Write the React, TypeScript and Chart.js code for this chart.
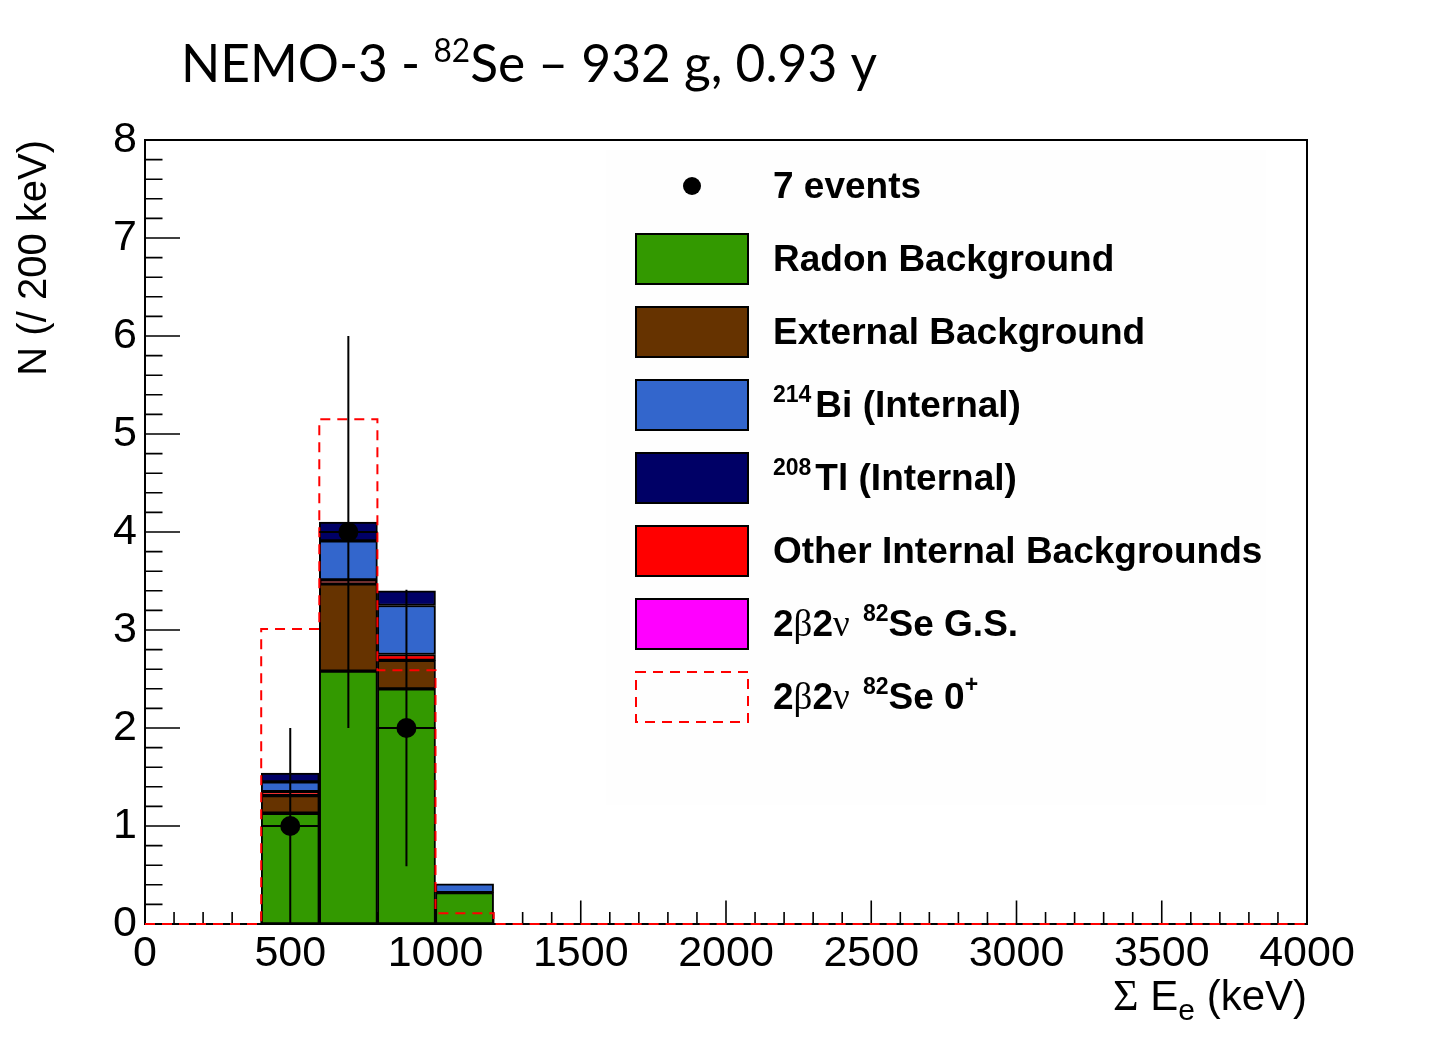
import { useEffect, useRef } from "react";
import { Chart, registerables, type Plugin } from "chart.js";

Chart.register(...registerables);

// bins are 200 keV wide
const binCenters = [500, 700, 900, 1100];
const radonBg = [1.13, 2.58, 2.40, 0.32];
const externalBg = [0.18, 0.89, 0.29, null];
const otherInternal = [0.04, 0.04, 0.06, null];
const bi214 = [0.10, 0.40, 0.50, 0.09];
const tl208 = [0.09, 0.19, 0.15, null];
const se82GS = [null, null, null, null];

// 2b2v 82Se 0+ (dashed), one value per 200 keV bin from 0 to 4000
const binEdges = [0, 200, 400, 600, 800, 1000, 1200, 1400, 1600, 1800, 2000, 2200, 2400, 2600, 2800, 3000, 3200, 3400, 3600, 3800, 4000];
const se82Excited = [0, 0, 3.01, 5.15, 2.59, 0.11, 0, 0, 0, 0, 0, 0, 0, 0, 0, 0, 0, 0, 0, 0];

// data: 7 events
const eventEnergy = [500, 700, 900];
const eventCounts = [1, 4, 2];
const eventErr = [1, 2, 1.41];
const eventXErr = [100, 100, 100];

const xTicks = [0, 500, 1000, 1500, 2000, 2500, 3000, 3500, 4000];
const yTicks = [0, 1, 2, 3, 4, 5, 6, 7, 8];

const SANS = "'Liberation Sans', Arial, sans-serif";
const SERIF = "'Liberation Serif', 'DejaVu Serif', serif";

type Seg = { t: string; font: string; dy?: number; dx?: number };

function richWidth(ctx: CanvasRenderingContext2D, segs: Seg[]) {
    let w = 0;
    for (const s of segs) { ctx.font = s.font; w += ctx.measureText(s.t).width + (s.dx ?? 0); }
    return w;
}

function drawRich(ctx: CanvasRenderingContext2D, x: number, y: number, segs: Seg[]) {
    let cx = x;
    for (const s of segs) {
        ctx.font = s.font;
        cx += s.dx ?? 0;
        ctx.fillText(s.t, cx, y + (s.dy ?? 0));
        cx += ctx.measureText(s.t).width;
    }
}

const frameAndTicks: Plugin = {
    id: "frameAndTicks",
    beforeDatasetsDraw(chart) {
        const { ctx, chartArea: a, scales } = chart;
        const x = scales.x, y = scales.y;
        ctx.save();
        ctx.strokeStyle = "#000";
        ctx.lineWidth = 2;
        ctx.strokeRect(a.left, a.top, a.right - a.left, a.bottom - a.top);
        ctx.lineWidth = 1.6;
        ctx.beginPath();
        for (let v = 0; v <= 4000; v += 100) {
            const px = x.getPixelForValue(v);
            const len = v % 500 === 0 ? 23.5 : 12;
            ctx.moveTo(px, a.bottom);
            ctx.lineTo(px, a.bottom - len);
        }
        for (let k = 0; k <= 40; k++) {
            const py = y.getPixelForValue(k * 0.2);
            const len = k % 5 === 0 ? 35 : 17.5;
            ctx.moveTo(a.left, py);
            ctx.lineTo(a.left + len, py);
        }
        ctx.stroke();
        ctx.restore();
    },
};

const errorBars: Plugin = {
    id: "errorBars",
    afterDatasetsDraw(chart) {
        const { ctx, scales } = chart;
        const x = scales.x, y = scales.y;
        ctx.save();
        ctx.strokeStyle = "#000";
        ctx.lineWidth = 2;
        ctx.beginPath();
        eventEnergy.forEach((e, i) => {
            const n = eventCounts[i];
            ctx.moveTo(x.getPixelForValue(e - eventXErr[i]), y.getPixelForValue(n));
            ctx.lineTo(x.getPixelForValue(e + eventXErr[i]), y.getPixelForValue(n));
            ctx.moveTo(x.getPixelForValue(e), y.getPixelForValue(Math.max(0, n - eventErr[i])));
            ctx.lineTo(x.getPixelForValue(e), y.getPixelForValue(n + eventErr[i]));
        });
        ctx.stroke();
        ctx.restore();
    },
};

const legendItems: { kind: "dot" | "box" | "dash"; color: string; segs: Seg[] }[] = [
    { kind: "dot", color: "#000", segs: [{ t: "7 events", font: `bold 37px ${SANS}` }] },
    { kind: "box", color: "#339900", segs: [{ t: "Radon Background", font: `bold 37px ${SANS}` }] },
    { kind: "box", color: "#663300", segs: [{ t: "External Background", font: `bold 37px ${SANS}` }] },
    { kind: "box", color: "#3366cc", segs: [{ t: "214", font: `bold 23px ${SANS}`, dy: -15 }, { t: "Bi (Internal)", font: `bold 37px ${SANS}`, dx: 4 }] },
    { kind: "box", color: "#000066", segs: [{ t: "208", font: `bold 23px ${SANS}`, dy: -15 }, { t: "Tl (Internal)", font: `bold 37px ${SANS}`, dx: 4 }] },
    { kind: "box", color: "#ff0000", segs: [{ t: "Other Internal Backgrounds", font: `bold 37px ${SANS}` }] },
    {
        kind: "box", color: "#ff00ff", segs: [
            { t: "2", font: `bold 37px ${SANS}` }, { t: "β", font: `37px ${SERIF}` },
            { t: "2", font: `bold 37px ${SANS}` }, { t: "ν ", font: `37px ${SERIF}` },
            { t: "82", font: `bold 23px ${SANS}`, dy: -15, dx: 4 }, { t: "Se G.S.", font: `bold 37px ${SANS}` },
        ],
    },
    {
        kind: "dash", color: "#ff0000", segs: [
            { t: "2", font: `bold 37px ${SANS}` }, { t: "β", font: `37px ${SERIF}` },
            { t: "2", font: `bold 37px ${SANS}` }, { t: "ν ", font: `37px ${SERIF}` },
            { t: "82", font: `bold 23px ${SANS}`, dy: -15, dx: 4 }, { t: "Se 0", font: `bold 37px ${SANS}` },
            { t: "+", font: `bold 23px ${SANS}`, dy: -17 },
        ],
    },
];

const textPlugin: Plugin = {
    id: "texts",
    afterDraw(chart) {
        const { ctx } = chart;
        ctx.save();
        ctx.fillStyle = "#000";
        ctx.textBaseline = "alphabetic";
        ctx.textAlign = "left";

        // title, Calibri-like, squeezed to the original width
        const title: Seg[] = [
            { t: "NEMO-3 - ", font: `52px Lato, 'Open Sans', sans-serif` },
            { t: "82", font: `32px Lato, 'Open Sans', sans-serif`, dy: -20 },
            { t: "Se – 932 g, 0.93 y", font: `52px Lato, 'Open Sans', sans-serif` },
        ];
        const tw = richWidth(ctx, title);
        ctx.save();
        ctx.translate(181, 82);
        ctx.scale(Math.min(1, 696 / tw), 1);
        drawRich(ctx, 0, 0, title);
        ctx.restore();

        // x-axis title
        const xt: Seg[] = [
            { t: "Σ", font: `44px ${SERIF}` },
            { t: " E", font: `42px ${SANS}` },
            { t: "e", font: `30px ${SANS}`, dy: 10 },
            { t: " (keV)", font: `42px ${SANS}` },
        ];
        drawRich(ctx, 1307 - richWidth(ctx, xt), 1010, xt);

        // legend
        ctx.fillStyle = "#fefefe";
        ctx.fillRect(606, 150, 660, 655);
        const rowY0 = 186, rowStep = 73;
        legendItems.forEach((it, i) => {
            const cy = rowY0 + i * rowStep;
            if (it.kind === "dot") {
                ctx.fillStyle = "#000";
                ctx.beginPath();
                ctx.arc(692, cy, 9, 0, Math.PI * 2);
                ctx.fill();
            } else if (it.kind === "box") {
                ctx.fillStyle = it.color;
                ctx.fillRect(636, cy - 25, 112, 50);
                ctx.strokeStyle = "#000";
                ctx.lineWidth = 2;
                ctx.strokeRect(636, cy - 25, 112, 50);
            } else {
                ctx.strokeStyle = it.color;
                ctx.lineWidth = 2;
                ctx.setLineDash([10, 7]);
                ctx.strokeRect(636, cy - 25, 112, 50);
                ctx.setLineDash([]);
            }
            ctx.fillStyle = "#000";
            drawRich(ctx, 773, cy + 12, it.segs);
        });
        ctx.restore();
    },
};

function barSet(label: string, values: (number | null)[], color: string) {
    return {
        type: "bar" as const,
        label,
        data: binCenters.map((x, i) => ({ x, y: values[i] })),
        backgroundColor: color,
        borderColor: "#000",
        borderWidth: 2,
        borderSkipped: false as const,
        barPercentage: 1,
        categoryPercentage: 1,
        stack: "bg",
        order: 3,
    };
}

export default function App() {
    const canvasRef = useRef<HTMLCanvasElement>(null);
    const chartRef = useRef<Chart | null>(null);

    useEffect(() => {
        if (!canvasRef.current) return;
        if (chartRef.current) chartRef.current.destroy();

        const stepData = binEdges.map((e, i) => ({ x: e, y: se82Excited[Math.min(i, se82Excited.length - 1)] }));

        chartRef.current = new Chart(canvasRef.current, {
            type: "bar",
            data: {
                datasets: [
                    barSet("Radon Background", radonBg, "#339900"),
                    barSet("External Background", externalBg, "#663300"),
                    barSet("Other Internal Backgrounds", otherInternal, "#ff0000"),
                    barSet("214Bi (Internal)", bi214, "#3366cc"),
                    barSet("208Tl (Internal)", tl208, "#000066"),
                    barSet("2b2v 82Se G.S.", se82GS, "#ff00ff"),
                    {
                        type: "line",
                        label: "2b2v 82Se 0+",
                        data: stepData,
                        stepped: "before",
                        borderColor: "#ff0000",
                        borderWidth: 2,
                        borderDash: [10, 7],
                        pointRadius: 0,
                        fill: false,
                        clip: false,
                        stack: "sig",
                        order: 1,
                    },
                    {
                        type: "line",
                        label: "7 events",
                        data: eventEnergy.map((x, i) => ({ x, y: eventCounts[i] })),
                        showLine: false,
                        pointRadius: 10,
                        pointBackgroundColor: "#000",
                        pointBorderWidth: 0,
                        stack: "data",
                        order: 0,
                    },
                ] as any,
            },
            options: {
                animation: false,
                responsive: false,
                devicePixelRatio: 1,
                layout: { padding: { left: 0, top: 140, right: 147, bottom: 0 } },
                plugins: { legend: { display: false }, tooltip: { enabled: false }, title: { display: false } },
                scales: {
                    x: {
                        type: "linear",
                        min: 0,
                        max: 4000,
                        offset: false,
                        stacked: true,
                        grid: { display: false, drawTicks: false },
                        border: { display: false },
                        afterBuildTicks: (s: any) => { s.ticks = xTicks.map(v => ({ value: v })); },
                        afterFit: (s: any) => { s.height = 116; },
                        ticks: {
                            color: "#000", font: { family: SANS, size: 43 }, padding: 4, maxRotation: 0, autoSkip: false,
                            callback: (v: any) => String(v),
                        },
                    },
                    y: {
                        type: "linear",
                        min: 0,
                        max: 8,
                        stacked: true,
                        grid: { display: false, drawTicks: false },
                        border: { display: false },
                        afterBuildTicks: (s: any) => { s.ticks = yTicks.map(v => ({ value: v })); },
                        afterFit: (s: any) => { s.width = 145; },
                        ticks: { color: "#000", font: { family: SANS, size: 43 }, padding: 8, callback: (v: any) => String(v) },
                        title: {
                            display: true,
                            text: "N (/ 200 keV)",
                            align: "end",
                            color: "#000",
                            font: { family: SANS, size: 40 },
                            padding: { top: 11, bottom: 0 },
                        },
                    },
                },
            },
            plugins: [frameAndTicks, errorBars, textPlugin],
        });

        return () => { chartRef.current?.destroy(); chartRef.current = null; };
    }, []);

    return (
        <div style={{ position: "fixed", left: 0, top: 0, width: 1454, height: 1040, background: "#fff" }}>
            <canvas ref={canvasRef} width={1454} height={1040} style={{ display: "block" }} />
        </div>
    );
}
